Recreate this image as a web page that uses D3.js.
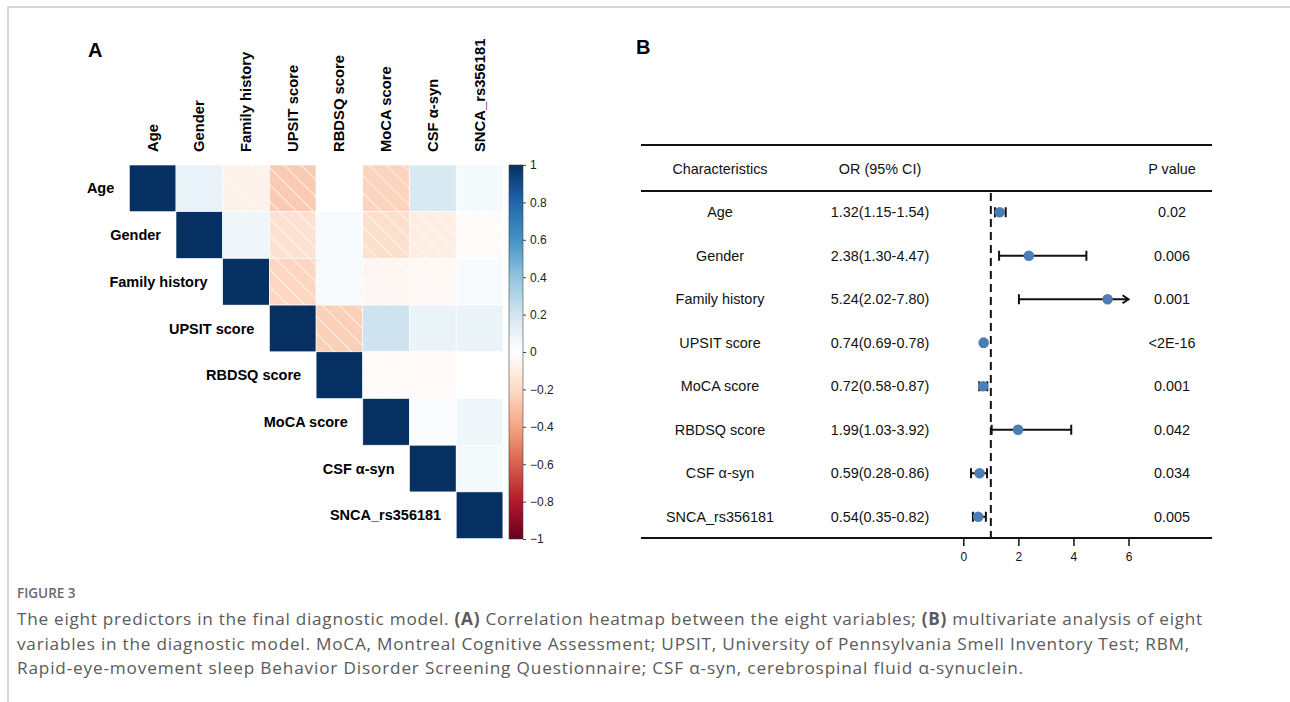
<!DOCTYPE html>
<html>
<head>
<meta charset="utf-8">
<script src="https://cdn.jsdelivr.net/npm/d3@7"></script>
<style>
body { margin: 0; background: #fff; }
</style>
</head>
<body>
<script>
// ---- data ----
var vars = ["Age", "Gender", "Family history", "UPSIT score", "RBDSQ score", "MoCA score", "CSF α-syn", "SNCA_rs356181"];
// upper triangle of the correlation matrix, one row per variable
var rowAge     = [1, 0.10, -0.08, -0.26, 0.00, -0.23, 0.17, 0.05];
var rowGender  = [1, 0.07, -0.16, 0.03, -0.18, -0.10, -0.02];
var rowFamily  = [1, -0.22, 0.04, -0.05, -0.04, 0.03];
var rowUpsit   = [1, -0.24, 0.21, 0.09, 0.09];
var rowRbdsq   = [1, -0.03, -0.03, 0.00];
var rowMoca    = [1, 0.02, 0.07];
var rowCsf     = [1, 0.05];
var rowSnca    = [1];
var cbTicks = [1, 0.8, 0.6, 0.4, 0.2, 0, -0.2, -0.4, -0.6, -0.8, -1];
var rdbu = ["#67001F", "#B2182B", "#D6604D", "#F4A582", "#FDDBC7", "#FFFFFF", "#D1E5F0", "#92C5DE", "#4393C3", "#2166AC", "#053061"];

var fpNames = ["Age", "Gender", "Family history", "UPSIT score", "MoCA score", "RBDSQ score", "CSF α-syn", "SNCA_rs356181"];
var fpOR   = [1.32, 2.38, 5.24, 0.74, 0.72, 1.99, 0.59, 0.54];
var fpLow  = [1.15, 1.30, 2.02, 0.69, 0.58, 1.03, 0.28, 0.35];
var fpHigh = [1.54, 4.47, 7.80, 0.78, 0.87, 3.92, 0.86, 0.82];
var fpP    = ["0.02", "0.006", "0.001", "<2E-16", "0.001", "0.042", "0.034", "0.005"];
var fpTicks = [0, 2, 4, 6];

var svg = d3.select("body")
    .append("svg")
    .attr("width", 1290)
    .attr("height", 702)
    .style("display", "block");

// page frame
svg.append("path")
    .attr("d", "M8,702 L8,7 L1290,7")
    .attr("fill", "none")
    .attr("stroke", "#c9c9c9")
    .attr("stroke-width", 1.5);

var arial = "'Liberation Sans', Arial, sans-serif";

// ================= A : heatmap =================
svg.append("text")
    .attr("x", 88).attr("y", 57)
    .attr("font-family", arial).attr("font-weight", "bold").attr("font-size", 20)
    .text("A");

var rows = [rowAge, rowGender, rowFamily, rowUpsit, rowRbdsq, rowMoca, rowCsf, rowSnca];
var cells = [];
rows.forEach(function (r, i) {
    r.forEach(function (v, k) {
        cells.push({ row: vars[i], col: vars[i + k], v: v });
    });
});

var hx = d3.scaleBand().domain(vars).range([129.3, 502.9]);
var hy = d3.scaleBand().domain(vars).range([165, 538.6]);
var color = d3.scaleLinear()
    .domain(d3.range(11).map(function (i) { return -1 + i * 0.2; }))
    .range(rdbu);

var defs = svg.append("defs");
var pat = defs.append("pattern")
    .attr("id", "hatch")
    .attr("patternUnits", "userSpaceOnUse")
    .attr("width", 17).attr("height", 17);
pat.append("path")
    .attr("d", "M0,0 L17,17 M-4,13 L4,21 M13,-4 L21,4")
    .attr("stroke", "#fff")
    .attr("stroke-width", 1.1)
    .attr("stroke-opacity", 0.7);

var hm = svg.append("g");
hm.selectAll("rect.cell")
    .data(cells)
    .enter().append("rect")
    .attr("class", "cell")
    .attr("x", function (d) { return hx(d.col); })
    .attr("y", function (d) { return hy(d.row); })
    .attr("width", hx.bandwidth())
    .attr("height", hy.bandwidth())
    .attr("fill", function (d) { return color(d.v); })
    .attr("stroke", "#ffffff")
    .attr("stroke-width", 0.6);

hm.selectAll("rect.hatch")
    .data(cells.filter(function (d) { return d.v < 0; }))
    .enter().append("rect")
    .attr("class", "hatch")
    .attr("x", function (d) { return hx(d.col); })
    .attr("y", function (d) { return hy(d.row); })
    .attr("width", hx.bandwidth())
    .attr("height", hy.bandwidth())
    .attr("fill", "url(#hatch)");

// row labels, right aligned next to the diagonal cell
hm.selectAll("text.rlab")
    .data(vars)
    .enter().append("text")
    .attr("class", "rlab")
    .attr("x", function (d) { return hx(d) - 15; })
    .attr("y", function (d) { return hy(d) + hy.bandwidth() / 2; })
    .attr("dy", "0.35em")
    .attr("text-anchor", "end")
    .attr("font-family", arial).attr("font-weight", "bold").attr("font-size", 14.5)
    .text(function (d) { return d; });

// column labels, vertical
hm.selectAll("text.clab")
    .data(vars)
    .enter().append("text")
    .attr("class", "clab")
    .attr("transform", function (d) {
        return "translate(" + (hx(d) + hx.bandwidth() / 2 + 5) + ",152) rotate(-90)";
    })
    .attr("font-family", arial).attr("font-weight", "bold").attr("font-size", 14.8)
    .text(function (d) { return d; });

// colour bar
var cbY = d3.scaleLinear().domain([-1, 1]).range([539, 165]);
var grad = defs.append("linearGradient")
    .attr("id", "cbgrad")
    .attr("x1", 0).attr("y1", 1).attr("x2", 0).attr("y2", 0);
rdbu.forEach(function (c, i) {
    grad.append("stop").attr("offset", (i / 10)).attr("stop-color", c);
});
svg.append("rect")
    .attr("x", 509).attr("y", cbY(1))
    .attr("width", 14).attr("height", cbY(-1) - cbY(1))
    .attr("fill", "url(#cbgrad)")
    .attr("stroke", "#444").attr("stroke-width", 0.6);

var cbAxis = svg.append("g")
    .attr("transform", "translate(523,0)")
    .call(d3.axisRight(cbY).tickValues(cbTicks).tickSize(3).tickPadding(4)
        .tickFormat(function (d) { return d3.format("")(d).replace("-", "−"); }));
cbAxis.select(".domain").remove();
cbAxis.selectAll("text").attr("font-family", arial).attr("font-size", 12).attr("fill", "#222");
cbAxis.selectAll("line").attr("stroke", "#444");

// ================= B : forest plot =================
svg.append("text")
    .attr("x", 636).attr("y", 54)
    .attr("font-family", arial).attr("font-weight", "bold").attr("font-size", 20)
    .text("B");

var fx = d3.scaleLinear().domain([0, 6]).range([963.3, 1128.5]);
var fy = d3.scaleBand().domain(fpNames).range([190.5, 538.5]);
var tableL = 641, tableR = 1212;
var colChar = 720, colOR = 880, colP = 1172;

var fp = svg.append("g");
[145, 191, 538].forEach(function (y) {
    fp.append("line")
        .attr("x1", tableL).attr("x2", tableR)
        .attr("y1", y).attr("y2", y)
        .attr("stroke", "#111").attr("stroke-width", 2);
});

var head = [["Characteristics", colChar], ["OR (95% CI)", colOR], ["P value", colP]];
fp.selectAll("text.head")
    .data(head)
    .enter().append("text")
    .attr("class", "head")
    .attr("x", function (d) { return d[1]; })
    .attr("y", 169).attr("dy", "0.35em")
    .attr("text-anchor", "middle")
    .attr("font-family", arial).attr("font-size", 14.4).attr("fill", "#111")
    .text(function (d) { return d[0]; });

var fdata = fpNames.map(function (n, i) {
    return { name: n, or: fpOR[i], lo: fpLow[i], hi: fpHigh[i], p: fpP[i] };
});

var rowsG = fp.selectAll("g.frow")
    .data(fdata)
    .enter().append("g")
    .attr("class", "frow")
    .attr("transform", function (d) { return "translate(0," + (fy(d.name) + fy.bandwidth() / 2) + ")"; });

function rowText(sel, x, fn) {
    sel.append("text")
        .attr("x", x).attr("dy", "0.35em")
        .attr("text-anchor", "middle")
        .attr("font-family", arial).attr("font-size", 14.4).attr("fill", "#111")
        .text(fn);
}
rowText(rowsG, colChar, function (d) { return d.name; });
rowText(rowsG, colOR, function (d) {
    return d.or.toFixed(2) + "(" + d.lo.toFixed(2) + "-" + d.hi.toFixed(2) + ")";
});
rowText(rowsG, colP, function (d) { return d.p; });

// reference line at OR = 1
fp.append("line")
    .attr("x1", fx(1)).attr("x2", fx(1))
    .attr("y1", 193).attr("y2", 538)
    .attr("stroke", "#111").attr("stroke-width", 2)
    .attr("stroke-dasharray", "8,5");

// CI whiskers
rowsG.append("line")
    .attr("x1", function (d) { return fx(d.lo); })
    .attr("x2", function (d) { return fx(Math.min(d.hi, 6)); })
    .attr("y1", 0).attr("y2", 0)
    .attr("stroke", "#111").attr("stroke-width", 2);
rowsG.append("line")
    .attr("x1", function (d) { return fx(d.lo); })
    .attr("x2", function (d) { return fx(d.lo); })
    .attr("y1", -5).attr("y2", 5)
    .attr("stroke", "#111").attr("stroke-width", 2);
rowsG.filter(function (d) { return d.hi <= 6; }).append("line")
    .attr("x1", function (d) { return fx(d.hi); })
    .attr("x2", function (d) { return fx(d.hi); })
    .attr("y1", -5).attr("y2", 5)
    .attr("stroke", "#111").attr("stroke-width", 2);
rowsG.filter(function (d) { return d.hi > 6; }).append("path")
    .attr("d", function () {
        var e = fx(6);
        return "M" + (e - 6) + ",-4 L" + e + ",0 L" + (e - 6) + ",4";
    })
    .attr("fill", "none")
    .attr("stroke", "#111").attr("stroke-width", 2);

rowsG.append("circle")
    .attr("cx", function (d) { return fx(d.or); })
    .attr("cy", 0)
    .attr("r", 5.3)
    .attr("fill", "#4d7db7");

var fAxis = fp.append("g")
    .attr("transform", "translate(0,538)")
    .call(d3.axisBottom(fx).tickValues(fpTicks).tickSize(8).tickPadding(6).tickFormat(d3.format("d")));
fAxis.select(".domain").remove();
fAxis.selectAll("line").attr("stroke", "#111").attr("stroke-width", 1.5);
fAxis.selectAll("text").attr("font-family", arial).attr("font-size", 12).attr("fill", "#111");

// ================= caption =================
var capFont = "'Open Sans', 'Noto Sans', sans-serif";
svg.append("text")
    .attr("x", 17).attr("y", 598)
    .attr("font-family", capFont).attr("font-weight", 600).attr("font-size", 13.5)
    .attr("fill", "#6b6b6b")
    .text("FIGURE 3");

var capLines = [
    [["The eight predictors in the final diagnostic model. ", 0], ["(A)", 1], [" Correlation heatmap between the eight variables; ", 0], ["(B)", 1], [" multivariate analysis of eight", 0]],
    [["variables in the diagnostic model. MoCA, Montreal Cognitive Assessment; UPSIT, University of Pennsylvania Smell Inventory Test; RBM,", 0]],
    [["Rapid-eye-movement sleep Behavior Disorder Screening Questionnaire; CSF α-syn, cerebrospinal fluid α-synuclein.", 0]]
];
var capEnds = [1203, 1190, 1024];
capLines.forEach(function (parts, i) {
    var t = svg.append("text")
        .attr("x", 17).attr("y", 625 + i * 24.5)
        .attr("font-family", capFont).attr("font-size", 17.2)
        .attr("fill", "#5a5a5a");
    parts.forEach(function (p) {
        t.append("tspan")
            .attr("font-weight", p[1] ? 700 : 400)
            .text(p[0]);
    });
    // stretch spacing so each line ends where the original one does
    var w = t.node().getComputedTextLength();
    var n = parts.map(function (p) { return p[0]; }).join("").length;
    t.attr("letter-spacing", ((capEnds[i] - 17 - w) / n).toFixed(3) + "px");
});
</script>
</body>
</html>
